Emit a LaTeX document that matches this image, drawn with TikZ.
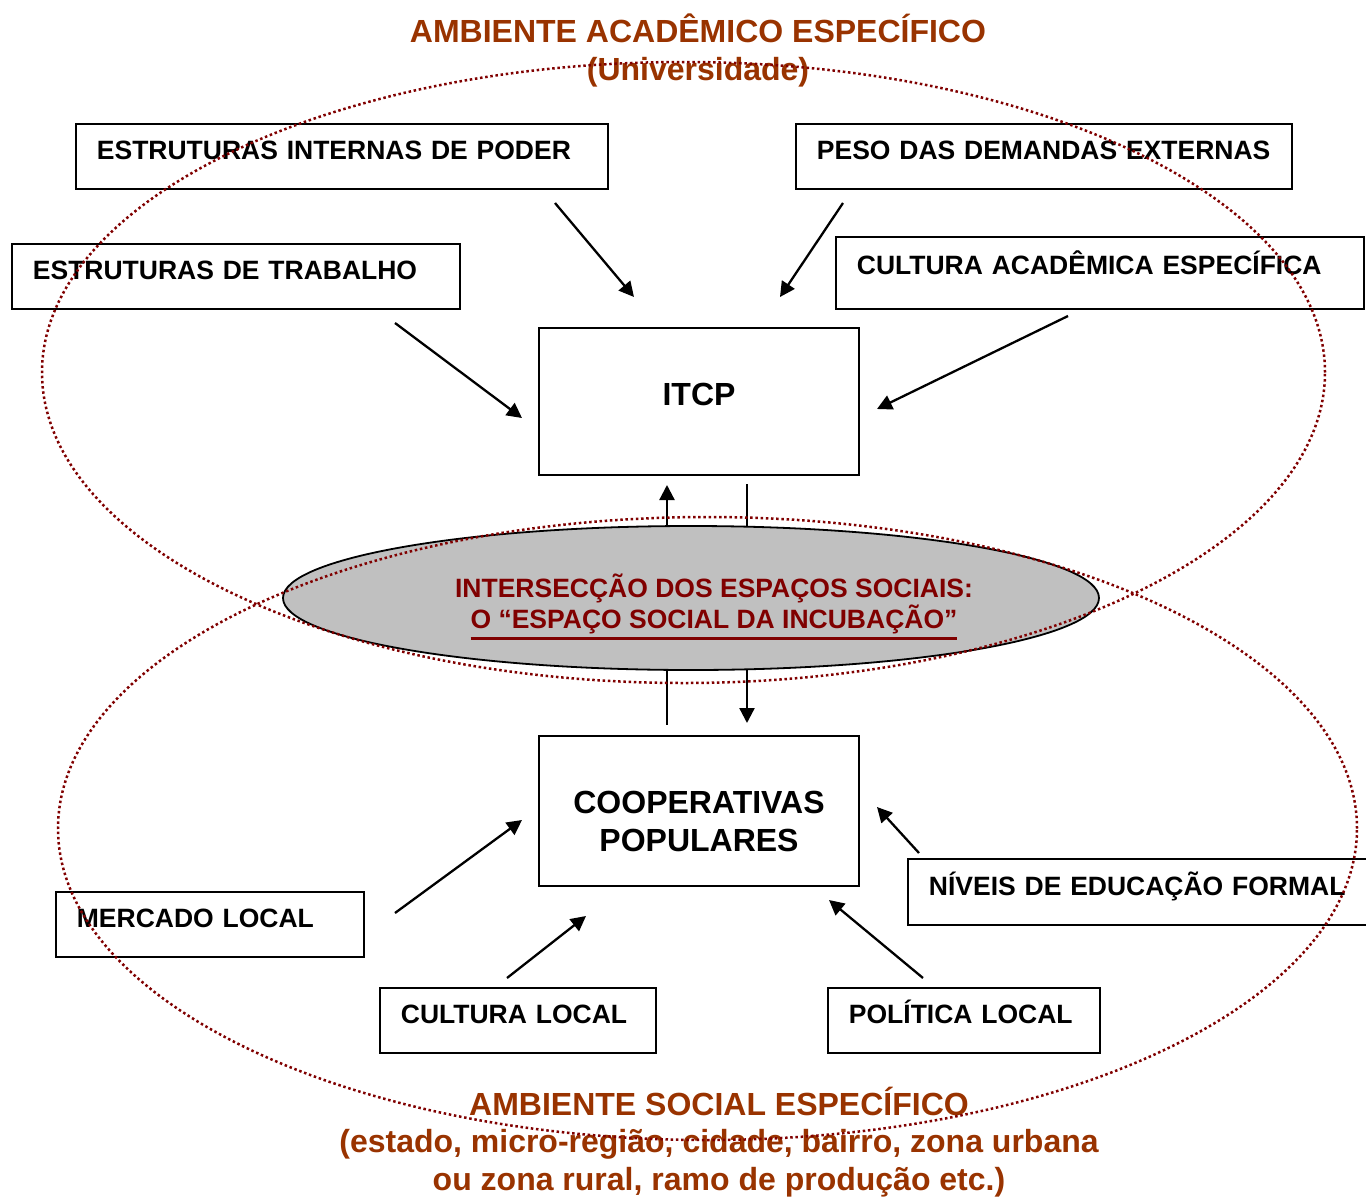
\documentclass[tikz,border=0pt]{standalone}
\usepackage{fontspec}
\setmainfont{Liberation Sans}
\usetikzlibrary{shapes.geometric,arrows.meta}

\definecolor{marrom}{HTML}{993300}
\definecolor{vinho}{HTML}{800000}
\definecolor{cinza}{HTML}{C0C0C0}

\newcommand{\sublinha}[1]{\leavevmode\vtop{\hbox{#1}\kern3pt\hrule height 2.5pt}}

\begin{document}
\begin{tikzpicture}[x=1pt, y=-1pt,
  fator/.style={draw, line width=1.8pt, anchor=north west, align=left,
    inner xsep=21pt, inner ysep=0pt, text height=35.5pt, text depth=29.5pt,
    font=\fontsize{26.5}{31}\selectfont\bfseries},
  centro/.style={draw, line width=1.8pt, minimum width=320pt, anchor=north,
    inner ysep=0pt, font=\fontsize{32}{38}\selectfont\bfseries},
  seta/.style={line width=2.3pt, -{Triangle[length=15pt,width=15pt]}},
  traco/.style={line width=2.3pt},
  ambiente/.style={draw=vinho, line width=2.5pt, dash pattern=on 2.5pt off 2.7pt},
  rotulo/.style={text=marrom, align=center, font=\fontsize{32}{38.5}\selectfont\bfseries}]

  \useasboundingbox (0,0) rectangle (1366,1197);

  % fatores do ambiente academico
  \node[fator, text width=490pt] (poder) at (75,123) {ESTRUTURAS INTERNAS DE PODER};
  \node[fator, text width=454pt] (demandas) at (795,123) {PESO DAS DEMANDAS EXTERNAS};
  \node[fator, text width=406pt] (trabalho) at (11,243) {ESTRUTURAS DE TRABALHO};
  \node[fator, text width=486pt, text height=37.5pt, text depth=34.5pt]
    (culturaacad) at (835,236) {CULTURA ACAD\^EMICA ESPEC\'IFICA};

  % fatores do ambiente social
  \node[fator, text width=440pt, text height=36.5pt] (educacao) at (907,858) {N\'IVEIS DE EDUCA\c{C}\~AO FORMAL};
  \node[fator, text width=266pt] (mercado) at (55,891) {MERCADO LOCAL};
  \node[fator, text width=234pt] (culturalocal) at (379,987) {CULTURA LOCAL};
  \node[fator, text width=230pt] (politica) at (827,987) {POL\'ITICA LOCAL};

  \node[centro, text height=77.5pt, text depth=69.5pt] (itcp) at (699,327) {ITCP};
  \node[centro, text height=77.5pt, text depth=72.5pt] (coop) at (699,735)
    {\begin{tabular}[t]{@{}c@{}}COOPERATIVAS\\POPULARES\end{tabular}};

  \coordinate (a1) at (555,203);  \coordinate (b1) at (634,297);
  \coordinate (a2) at (843,203);  \coordinate (b2) at (780,297);
  \coordinate (a3) at (395,323);  \coordinate (b3) at (522,418);
  \coordinate (a4) at (1068,316); \coordinate (b4) at (877,409);
  \coordinate (a5) at (395,913);  \coordinate (b5) at (522,820);
  \coordinate (a6) at (507,978);  \coordinate (b6) at (586,916);
  \coordinate (a7) at (923,978);  \coordinate (b7) at (829,900);
  \coordinate (a8) at (919,853);  \coordinate (b8) at (877,807);

  \draw[seta] (a1) -- (b1);
  \draw[seta] (a2) -- (b2);
  \draw[seta] (a3) -- (b3);
  \draw[seta] (a4) -- (b4);
  \draw[seta] (a5) -- (b5);
  \draw[seta] (a6) -- (b6);
  \draw[seta] (a7) -- (b7);
  \draw[seta] (a8) -- (b8);

  \coordinate (s1) at (667,526); \coordinate (t1) at (667,485);
  \coordinate (s2) at (747,484); \coordinate (t2) at (747,526);
  \coordinate (s3) at (667,670); \coordinate (t3) at (667,725);
  \coordinate (s4) at (747,670); \coordinate (t4) at (747,723);

  \draw[seta] (s1) -- (t1);
  \draw[traco] (s2) -- (t2);
  \draw[traco] (s3) -- (t3);
  \draw[seta] (s4) -- (t4);

  \node[ellipse, draw, line width=1.8pt, fill=cinza, minimum width=816pt,
    minimum height=144pt, inner sep=0pt] (incubacao) at (691,598) {};
  \node[text=vinho, align=center, font=\fontsize{26.5}{31}\selectfont\bfseries]
    (incubacaotexto) at (714,607)
    {INTERSEC\c{C}\~AO DOS ESPA\c{C}OS SOCIAIS:\\
     \sublinha{O “ESPA\c{C}O SOCIAL DA INCUBA\c{C}\~AO”}};

  \node[rotulo] (academico) at (698,50.5)
    {AMBIENTE ACAD\^EMICO ESPEC\'IFICO\\(Universidade)};
  \node[rotulo, font=\fontsize{32}{37.5}\selectfont\bfseries] (social) at (719,1142)
    {AMBIENTE SOCIAL ESPEC\'IFICO\\(estado, micro-regi\~ao, cidade, bairro, zona urbana\\
     ou zona rural, ramo de produ\c{c}\~ao etc.)};

  \draw[ambiente] (683.5,372.5) ellipse [x radius=641.5pt, y radius=310.5pt];
  \draw[ambiente] (707.5,828.5) ellipse [x radius=649.5pt, y radius=311.5pt];

\end{tikzpicture}
\end{document}
